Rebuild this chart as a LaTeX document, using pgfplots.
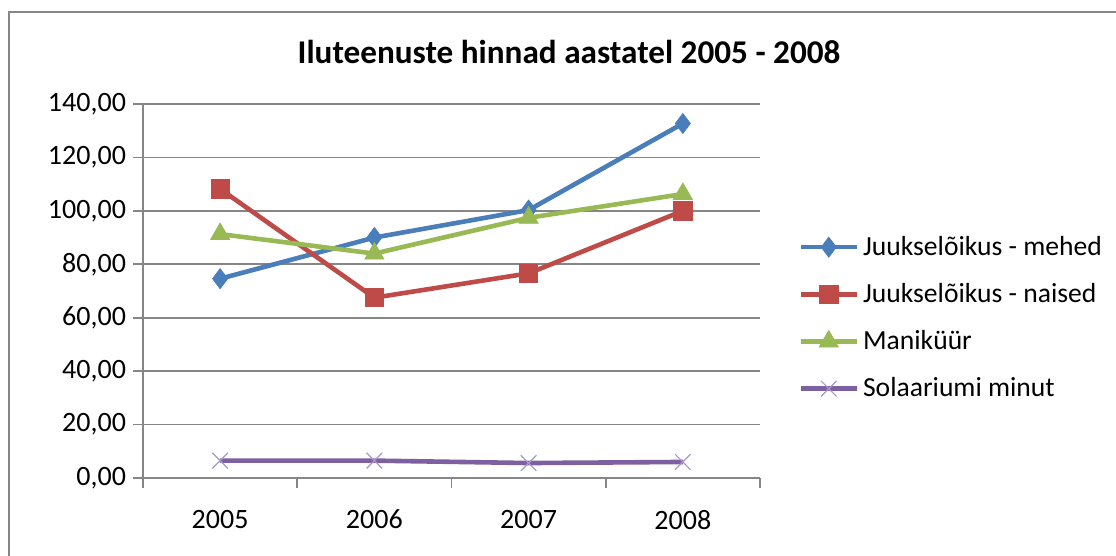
\documentclass[border=0pt]{standalone}
\usepackage{fontspec}
\setmainfont{Carlito}
\usepackage{pgfplots}
\pgfplotsset{compat=1.18}
\definecolor{sblue}{HTML}{4A7EBB}
\definecolor{sred}{HTML}{BE4B48}
\definecolor{sgreen}{HTML}{98B954}
\definecolor{spurple}{HTML}{7D60A0}
\definecolor{xpurple}{HTML}{A898C8}
\definecolor{gridgray}{HTML}{868686}
\begin{document}
\begin{tikzpicture}
\path[use as bounding box] (-71.5pt,-39pt) rectangle (486.5pt,239pt);
\draw[gridgray, line width=1.3pt] (-67pt,-50pt) -- (-67pt,233pt) -- (495pt,233pt);
\begin{axis}[at={(0,0)}, anchor=south west, scale only axis,
  width=308.5pt, height=187pt,
  xmin=-0.5, xmax=3.5, ymin=0, ymax=140, ytick={0,20,...,140},
  xtick={0,1,2,3}, xticklabels={2005,2006,2007,2008},
  minor xtick={-0.5,0.5,1.5,2.5,3.5},
  axis x line*=bottom, axis y line*=left,
  axis line style={draw=gridgray, line width=0.8pt, -},
  ymajorgrids, grid style={gridgray, line width=0.8pt},
  tick align=outside, major tick length=5pt, minor tick length=5pt,
  tick style={gridgray, line width=0.8pt},
  major x tick style={draw=none},
  tick label style={font=\fontsize{14}{16}\selectfont},
  xticklabel style={yshift=-7.5pt},
  /pgf/number format/.cd, fixed, fixed zerofill, precision=2, use comma, 1000 sep={}, assume math mode=true,
  /pgfplots/.cd,
  legend style={at={(1.052,0.428)}, anchor=west, draw=none, fill=none,
    font=\fontsize{13.8}{16}\selectfont, row sep=8.5pt},
  legend cell align=left,
  legend image code/.code={\draw[mark repeat=2,mark phase=2,#1] plot coordinates {(0pt,0pt) (14pt,0pt) (28pt,0pt)};},
]
\addplot[sblue, line width=2.3pt, mark=diamond*, mark size=5pt, mark options={solid, fill=sblue, draw=sblue, line width=0.4pt}]
  coordinates {(0,74.6)(1,90)(2,100.3)(3,132.7)};
\addlegendentry{Juukselõikus - mehed}
\addplot[sred, line width=2.3pt, mark=square*, mark size=4.6pt, mark options={solid, fill=sred, draw=sred, line width=0.4pt}]
  coordinates {(0,108.2)(1,67.5)(2,76.6)(3,100)};
\addlegendentry{Juukselõikus - naised}
\addplot[sgreen, line width=2.3pt, mark=triangle*, mark size=5.5pt, mark options={solid, fill=sgreen, draw=sgreen, line width=0.4pt}]
  coordinates {(0,91.3)(1,84)(2,97.4)(3,106.3)};
\addlegendentry{Maniküür}
\addplot[spurple, line width=2.3pt, mark=x, mark size=5.5pt, mark options={solid, draw=xpurple, line width=0.6pt}]
  coordinates {(0,6.5)(1,6.5)(2,5.6)(3,6)};
\addlegendentry{Solaariumi minut}
\end{axis}
\node[font=\bfseries\fontsize{16.6}{19}\selectfont] at (213pt,213pt) {Iluteenuste hinnad aastatel 2005 - 2008};
\end{tikzpicture}
\end{document}
